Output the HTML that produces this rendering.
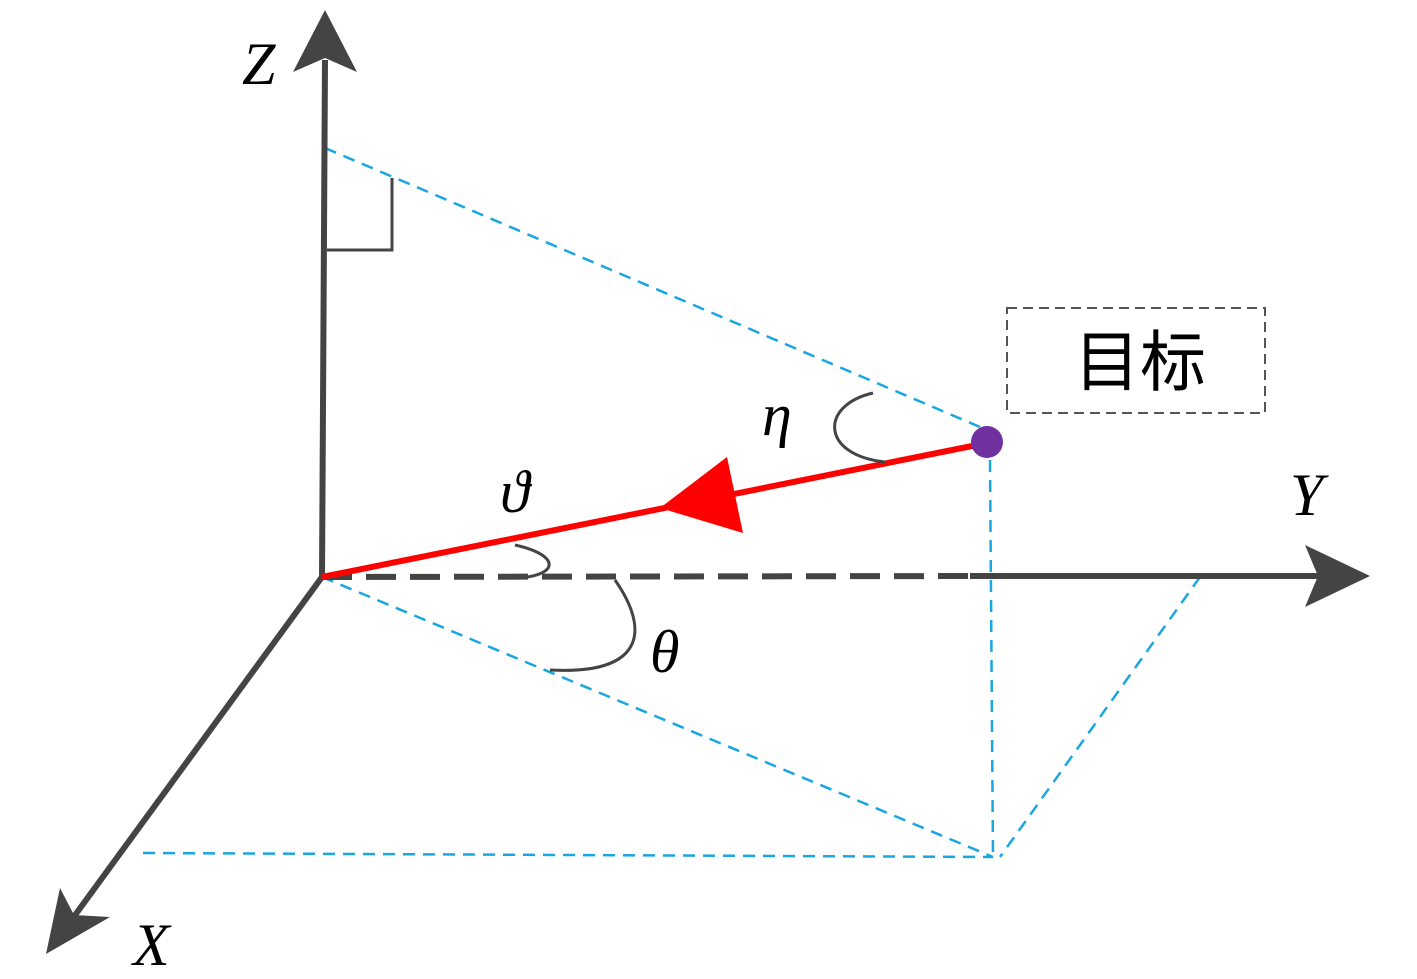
<!DOCTYPE html>
<html><head><meta charset="utf-8"><style>html,body{margin:0;padding:0;background:#fff}</style></head>
<body>
<svg width="1417" height="974" viewBox="0 0 1417 974" xmlns="http://www.w3.org/2000/svg">
<g stroke="#1aa7e0" stroke-width="2.5" stroke-dasharray="12,8" fill="none">
<line x1="325" y1="148" x2="987" y2="430"/>
<line x1="990" y1="460" x2="993" y2="857"/>
<line x1="322" y1="577" x2="993" y2="857"/>
<line x1="143" y1="853" x2="993" y2="857"/>
<line x1="1200" y1="577" x2="1000" y2="857"/>
</g>
<polyline points="327,250 392,250 392,178" fill="none" stroke="#444" stroke-width="3"/>
<line x1="322" y1="577" x2="325" y2="60" stroke="#444" stroke-width="6"/>
<polygon points="325,10 293,72 325,58 357,72" fill="#444"/>
<line x1="322" y1="577" x2="970" y2="576" stroke="#444" stroke-width="6" stroke-dasharray="30,14"/>
<line x1="970" y1="576" x2="1320" y2="576" stroke="#444" stroke-width="6"/>
<polygon points="1370,576 1305,545 1318,576 1305,607" fill="#444"/>
<line x1="322" y1="577" x2="70" y2="922" stroke="#444" stroke-width="6"/>
<polygon points="46,954 60,888 74,915 110,917" fill="#444"/>
<line x1="322" y1="577" x2="987" y2="443" stroke="#f00" stroke-width="6"/>
<polygon points="660,508 727,457 743,533" fill="#f00"/>
<circle cx="987" cy="442" r="16" fill="#7030a0"/>
<g fill="none" stroke="#444" stroke-width="3">
<path d="M873,393 C820,405 820,455 885,462"/>
<path d="M515,545 C560,555 560,575 518,578"/>
<path d="M615,580 C650,630 645,675 550,670"/>
</g>
<rect x="1007" y="308" width="258" height="105" fill="none" stroke="#555" stroke-width="2" stroke-dasharray="10,6"/>
<text x="1140" y="385" font-family="'Noto Sans CJK SC',sans-serif" font-size="66" text-anchor="middle">目标</text>
<g font-family="'Liberation Serif',serif" font-style="italic" font-size="60" fill="#000">
<text x="242" y="84">Z</text>
<text x="1290" y="515">Y</text>
<text x="133" y="965">X</text>
<text x="762" y="435">η</text>
<text x="500" y="512">ϑ</text>
<text x="650" y="672">θ</text>
</g>
</svg>
</body></html>
